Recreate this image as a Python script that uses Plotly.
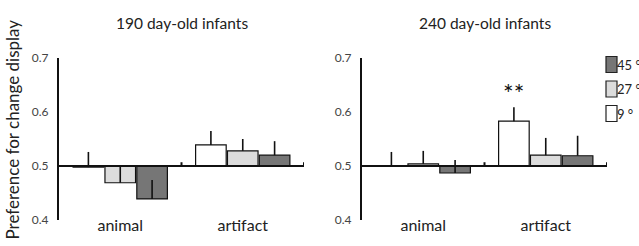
import plotly.graph_objects as go

categories = ["animal", "artifact"]
series_names = ["9 °", "27 °", "45 °"]
series_colors = ["#ffffff", "#dcdcdc", "#767676"]

# 190 day-old infants
d190_9 = [0.498, 0.539]
d190_27 = [0.469, 0.528]
d190_45 = [0.439, 0.520]
e190_9 = [0.028, 0.026]
e190_27 = [0.031, 0.022]
e190_45 = [0.035, 0.026]

# 240 day-old infants
d240_9 = [0.500, 0.583]
d240_27 = [0.504, 0.520]
d240_45 = [0.487, 0.519]
e240_9 = [0.026, 0.026]
e240_27 = [0.024, 0.032]
e240_45 = [0.024, 0.037]

panel_titles = ["190 day-old infants", "240 day-old infants"]
y_ticks = [0.4, 0.5, 0.6, 0.7]
baseline = 0.5
significance = "**"

FONT = "Lato"
W, H = 639, 246
ML, MR, MT, MB = 59, 32, 58, 26
BARGAP = 0.22

fig = go.Figure()

panels = [
    ("x", "y", [d190_9, d190_27, d190_45], [e190_9, e190_27, e190_45]),
    ("x2", "y2", [d240_9, d240_27, d240_45], [e240_9, e240_27, e240_45]),
]

for xa, ya, vals, errs in panels:
    for name, color, v, e in zip(series_names, series_colors, vals, errs):
        fig.add_trace(go.Bar(
            x=categories,
            y=[val - baseline for val in v],
            base=baseline,
            name=name,
            marker=dict(color=color, line=dict(color="#111111", width=1.2)),
            error_y=dict(type="data", symmetric=False, array=e,
                         arrayminus=[0] * len(e), color="#111111",
                         thickness=1.6, width=0),
            xaxis=xa, yaxis=ya, showlegend=False,
        ))

pw = W - ML - MR
ph = H - MT - MB
d1 = [0, (304 - ML) / pw]
d2 = [(362 - ML) / pw, 1]

axis_common = dict(showgrid=False, zeroline=False, automargin=False)
for key, dom in (("xaxis", d1), ("xaxis2", d2)):
    fig.layout[key] = dict(domain=dom, range=[-0.5, 1.5], showline=False,
                           ticks="", ticklabelstandoff=-6,
                           tickfont=dict(family=FONT, size=16, color="#222"),
                           anchor="y" if key == "xaxis" else "y2", **axis_common)
for key, anchor in (("yaxis", "x"), ("yaxis2", "x2")):
    fig.layout[key] = dict(range=[0.4, 0.7], tickvals=y_ticks,
                           ticktext=[f"{t:.1f}" for t in y_ticks],
                           showline=True, linecolor="#111", linewidth=2,
                           ticks="", ticklabelstandoff=6,
                           tickfont=dict(family=FONT, size=12, color="#444"),
                           anchor=anchor, **axis_common)

shapes = []
annotations = []
for i, (xa, ya) in enumerate((("x", "y"), ("x2", "y2"))):
    shapes.append(dict(type="line", xref=f"{xa} domain", yref=ya, x0=0, x1=1,
                       y0=baseline, y1=baseline, line=dict(color="#111", width=2)))
    for bx in (0.5, 1.5):
        shapes.append(dict(type="line", xref=xa, yref=ya, x0=bx, x1=bx,
                           y0=baseline, y1=baseline + 0.007,
                           line=dict(color="#111", width=2)))
    dom = d1 if i == 0 else d2
    annotations.append(dict(text=panel_titles[i], xref="paper", yref="paper",
                            x=(dom[0] + dom[1]) / 2, y=1, yshift=35,
                            showarrow=False, xanchor="center", yanchor="middle",
                            font=dict(family=FONT, size=15.5, color="#222")))

slot = (1 - BARGAP) / len(series_names)
annotations.append(dict(text=significance, xref="x2", yref="y2",
                        x=categories.index("artifact") - slot,
                        y=d240_9[1] + e240_9[1] + 0.035, yshift=-5,
                        showarrow=False, xanchor="center", yanchor="middle",
                        font=dict(family=FONT, size=25, color="#111")))

leg_x0 = (606 - ML) / pw
leg_x1 = (617 - ML) / pw
box_h = 16 / ph
for j, (name, color) in enumerate(reversed(list(zip(series_names, series_colors)))):
    cy = 1 - (6.5 + 24.5 * j) / ph
    shapes.append(dict(type="rect", xref="paper", yref="paper",
                       x0=leg_x0, x1=leg_x1, y0=cy - box_h / 2, y1=cy + box_h / 2,
                       fillcolor=color, line=dict(color="#222", width=1.2)))
    annotations.append(dict(text=name, xref="paper", yref="paper",
                            x=leg_x1, xshift=-1, y=cy, showarrow=False,
                            xanchor="left", yanchor="middle", borderpad=0,
                            font=dict(family=FONT, size=13, color="#222")))

annotations.append(dict(text="Preference for change display", xref="paper", yref="paper",
                        x=0, xshift=-47, y=1 - (129.5 - MT) / ph, textangle=-90,
                        showarrow=False, xanchor="center", yanchor="middle",
                        font=dict(family=FONT, size=17, color="#222")))

fig.update_layout(
    width=W, height=H,
    margin=dict(l=ML, r=MR, t=MT, b=MB),
    barmode="group", bargap=BARGAP, bargroupgap=0.04,
    plot_bgcolor="white", paper_bgcolor="white",
    shapes=shapes, annotations=annotations,
    showlegend=False,
)

fig.write_html("out.html", config={"displayModeBar": False},
               post_script="document.body.style.margin='0';document.body.style.overflow='hidden';")
